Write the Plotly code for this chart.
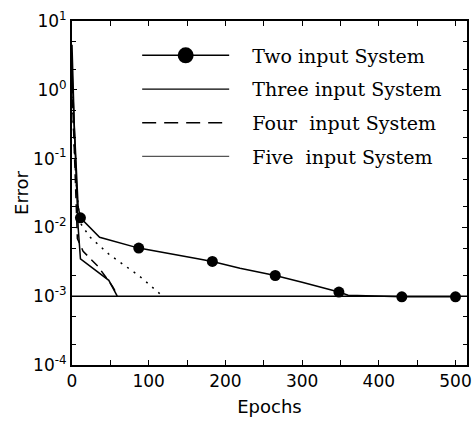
import plotly.graph_objects as go

# ---- data ----
two_x = [0, 3, 8, 11, 36, 87, 164, 183, 219, 265, 300, 348, 360, 430, 500]
two_y = [4.5, 0.3, 0.02, 0.0138, 0.0072, 0.0050, 0.0035, 0.0032, 0.00255, 0.0020, 0.0016, 0.00115, 0.00103, 0.00098, 0.00098]
two_mark_x = [11, 87, 183, 265, 348, 430, 500]
two_mark_y = [0.0138, 0.0050, 0.0032, 0.0020, 0.00115, 0.00098, 0.00098]

three_x = [0, 4, 8, 11, 48, 59]
three_y = [2.0, 0.1, 0.01, 0.0035, 0.0017, 0.001]

four_x = [0, 4, 7, 14.5, 34, 44, 53, 58]
four_y = [1.2, 0.08, 0.0069, 0.0045, 0.0027, 0.0019, 0.00138, 0.0011]

five_x = [0, 5, 10, 23, 49, 87, 114, 118]
five_y = [0.8, 0.05, 0.012, 0.0073, 0.0040, 0.0020, 0.0011, 0.001]

goal_x = [0, 515]
goal_y = [0.001, 0.001]

names = ["Two input System", "Three input System", "Four  input System", "Five  input System"]
ytick_vals = [1e-4, 1e-3, 1e-2, 1e-1, 1, 10]
ytick_exp = ["-4", "-3", "-2", "-1", "0", "1"]
ytick_text = ["10<sup>%s</sup>" % e for e in ytick_exp]

PAD = "\u00a0\u00a0\u00a0"

fig = go.Figure()
fig.add_trace(go.Scatter(x=goal_x, y=goal_y, mode="lines", line=dict(color="black", width=1.5),
                         showlegend=False, hoverinfo="skip"))
fig.add_trace(go.Scatter(x=two_x, y=two_y, mode="lines", line=dict(color="black", width=1.5),
                         showlegend=False))
fig.add_trace(go.Scatter(x=two_mark_x, y=two_mark_y, mode="markers",
                         marker=dict(color="black", size=11), showlegend=False))
fig.add_trace(go.Scatter(x=three_x, y=three_y, mode="lines", line=dict(color="black", width=1.5),
                         showlegend=False))
fig.add_trace(go.Scatter(x=four_x, y=four_y, mode="lines",
                         line=dict(color="black", width=1.5, dash="9px,6px"), showlegend=False))
fig.add_trace(go.Scatter(x=five_x, y=five_y, mode="lines",
                         line=dict(color="black", width=1.5, dash="2px,6px"), showlegend=False))

# legend entries
fig.add_trace(go.Scatter(x=[None], y=[None], mode="lines+markers", name=PAD + names[0],
                         line=dict(color="black", width=1.5), marker=dict(color="black", size=16),
                         legendgroup="a"))
fig.add_trace(go.Scatter(x=[None], y=[None], mode="lines", name=PAD + names[1],
                         line=dict(color="black", width=1.2), legendgroup="b"))
fig.add_trace(go.Scatter(x=[None], y=[None], mode="lines", name=PAD + names[2],
                         line=dict(color="black", width=1.5, dash="14px,8px"), legendgroup="c"))
fig.add_trace(go.Scatter(x=[None], y=[None], mode="lines", name=PAD + names[3],
                         line=dict(color="#555555", width=1.2), legendgroup="d"))

axis_common = dict(showline=True, linecolor="black", linewidth=2, mirror="ticks",
                   ticks="inside", tickcolor="black", showgrid=False, zeroline=False,
                   tickfont=dict(family="DejaVu Sans", size=17, color="black"))

fig.update_layout(
    width=476, height=423,
    margin=dict(l=72, r=4, t=21, b=58),
    paper_bgcolor="white", plot_bgcolor="white",
    xaxis=dict(range=[0, 515], tickvals=[0, 100, 200, 300, 400, 500], ticklen=5, tickwidth=1,
               minor=dict(dtick=50, tick0=0, ticks="inside", ticklen=5, tickcolor="black"),
               title=dict(text="Epochs", font=dict(family="DejaVu Sans", size=18, color="black"), standoff=10),
               **axis_common),
    yaxis=dict(type="log", range=[-4, 1], tickvals=ytick_vals, ticktext=ytick_text, ticklen=5,
               minor=dict(ticks="inside", ticklen=4, tickcolor="black"),
               title=dict(text="Error", font=dict(family="DejaVu Sans", size=18, color="black"), standoff=0),
               **axis_common),
    legend=dict(x=0.165, y=0.955, xanchor="left", yanchor="top", bgcolor="rgba(0,0,0,0)",
                font=dict(family="DejaVu Serif", size=19, color="black"),
                itemwidth=87, tracegroupgap=6),
)

fig.write_html("out.html")
